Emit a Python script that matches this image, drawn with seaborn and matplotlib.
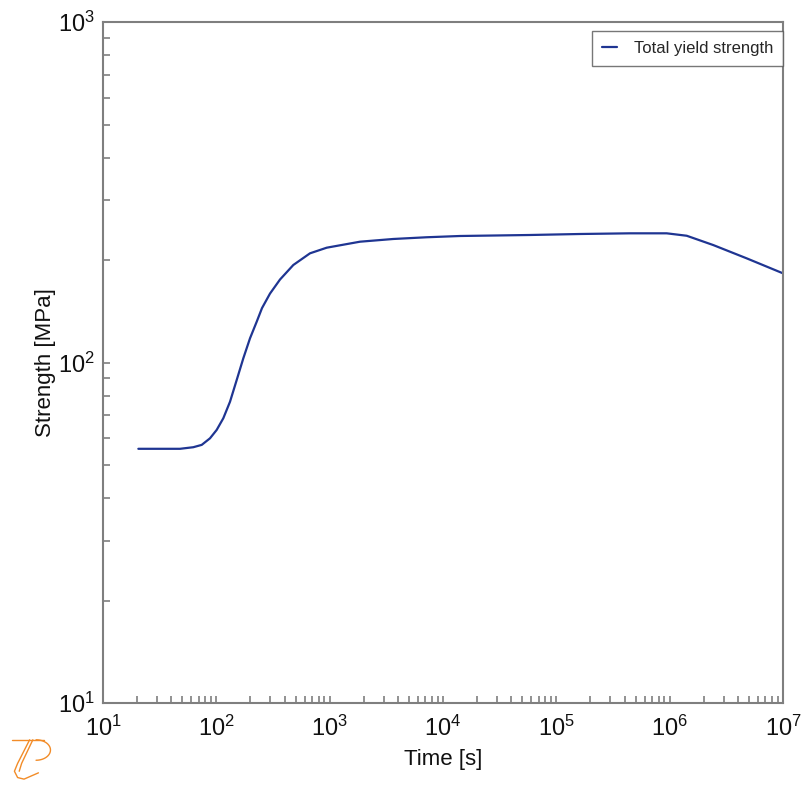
import numpy as np
import pandas as pd
import matplotlib
matplotlib.use("Agg")
import matplotlib.pyplot as plt
import seaborn as sns
from matplotlib.ticker import LogLocator, LogFormatterMathtext, NullFormatter

# Data
time_s = [20.5, 47.8, 62.6, 74.3, 87.9, 100.7, 115.2, 132.0, 151.3, 173.0,
          198.2, 227.1, 252.9, 297.5, 364.6, 477.8, 670.7, 941.7, 1852, 3643,
          7182, 14130, 58570, 161800, 446900, 941900, 1.414e6, 2.427e6,
          4.783e6, 1.0e7]
strength_mpa = [55.8, 55.8, 56.4, 57.3, 59.9, 63.4, 68.6, 76.7, 88.9, 102.9,
                117.8, 131.8, 144.5, 159.4, 175.3, 193.4, 209.3, 217.4, 226.4,
                230.6, 233.3, 235.3, 236.9, 238.5, 239.6, 239.6, 235.7, 221.3,
                202.3, 182.8]
series_name = "Total yield strength"
x_label = "Time [s]"
y_label = "Strength [MPa]"

df = pd.DataFrame({"Time": time_s, "Strength": strength_mpa, "Series": series_name})

sns.set_style("white")
plt.rcParams["font.family"] = ["Liberation Sans", "DejaVu Sans"]
plt.rcParams["mathtext.fontset"] = "custom"
plt.rcParams["mathtext.rm"] = "Liberation Sans"
plt.rcParams["mathtext.it"] = "Liberation Sans"

fig = plt.figure(figsize=(8.01, 7.87), dpi=100)
ax = fig.add_axes([0.1286, 0.1067, 0.8489, 0.8653])

sns.lineplot(data=df, x="Time", y="Strength", hue="Series", palette=["#1f3592"],
             linewidth=1.6, ax=ax, sort=False)
for ln in ax.lines:
    ln.set_solid_joinstyle("round")

ax.set_xscale("log")
ax.set_yscale("log")
ax.set_xlim(1e1, 1e7)
ax.set_ylim(1e1, 1e3)

gray = "#7f7f7f"
for s in ax.spines.values():
    s.set_color(gray)
    s.set_linewidth(1.5)

ax.xaxis.set_major_locator(LogLocator(base=10, numticks=10))
ax.yaxis.set_major_locator(LogLocator(base=10, numticks=10))
ax.xaxis.set_minor_locator(LogLocator(base=10, subs=np.arange(2, 10), numticks=20))
ax.yaxis.set_minor_locator(LogLocator(base=10, subs=np.arange(2, 10), numticks=20))
ax.xaxis.set_major_formatter(LogFormatterMathtext())
ax.yaxis.set_major_formatter(LogFormatterMathtext())
ax.xaxis.set_minor_formatter(NullFormatter())
ax.yaxis.set_minor_formatter(NullFormatter())
ax.tick_params(which="both", direction="in", color=gray, width=1.2,
               top=False, right=False, bottom=True, left=True)
ax.tick_params(which="major", length=5, labelsize=17, labelcolor="#111111")
ax.tick_params(axis="x", which="major", pad=9)
ax.tick_params(axis="y", which="major", pad=6)
ax.tick_params(which="minor", length=5)

ax.set_xlabel(x_label, fontsize=16, labelpad=6, color="#111111")
ax.set_ylabel(y_label, fontsize=16, labelpad=1, color="#111111")

leg = ax.legend(loc="upper right", bbox_to_anchor=(1.0, 0.987), borderaxespad=0,
                fontsize=12, frameon=True, fancybox=False, handlelength=0.9,
                handletextpad=1.0, borderpad=0.6)
leg.get_frame().set_edgecolor("#555555")
leg.get_frame().set_linewidth(1.0)

# Decorative logo (bottom-left)
orange = "#f28c28"
fig.lines.append(plt.Line2D([0.015, 0.055], [0.06, 0.06], transform=fig.transFigure, color=orange, lw=1))
th = np.linspace(np.pi / 2, -np.pi / 2, 40)
fig.lines.append(plt.Line2D(0.045 + 0.018 * np.cos(th), 0.047 + 0.013 * np.sin(th),
                            transform=fig.transFigure, color=orange, lw=1))
fig.lines.append(plt.Line2D([0.037, 0.022, 0.018, 0.022, 0.03, 0.048],
                            [0.06, 0.03, 0.02, 0.012, 0.01, 0.018],
                            transform=fig.transFigure, color=orange, lw=1))
fig.lines.append(plt.Line2D([0.041, 0.027, 0.024], [0.06, 0.03, 0.02],
                            transform=fig.transFigure, color=orange, lw=1))

fig.savefig("out.png", dpi=100)
